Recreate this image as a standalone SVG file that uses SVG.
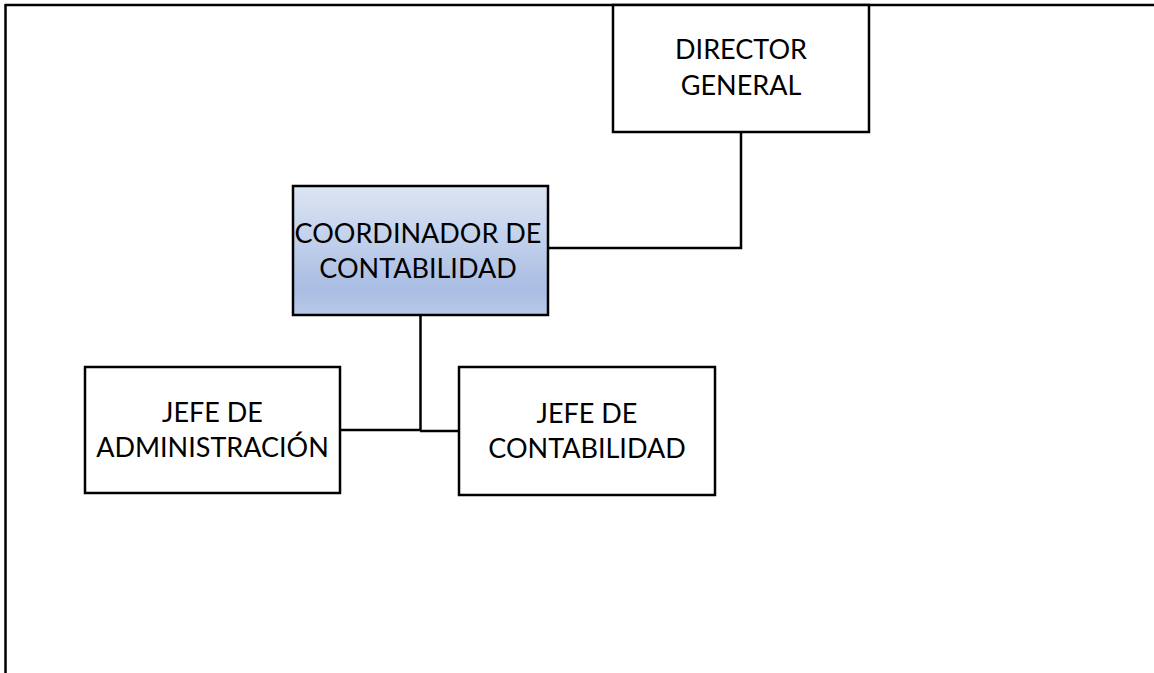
<svg xmlns="http://www.w3.org/2000/svg" width="1154" height="673" viewBox="0 0 1154 673">
<style>
.box{fill:#ffffff;stroke:#000;stroke-width:2.5}
.lbl{font-family:Lato,"Open Sans","Liberation Sans",sans-serif;font-size:27px;fill:#000;text-anchor:middle}
.ln{fill:none;stroke:#000;stroke-width:2.5}
</style>
<defs>
<linearGradient id="g" x1="0" y1="0" x2="0" y2="1">
<stop offset="0" stop-color="#dde5f3"/>
<stop offset="0.8" stop-color="#a9bde3"/>
<stop offset="1" stop-color="#b8c9e8"/>
</linearGradient>
</defs>
<rect width="1154" height="673" fill="#fff"/>
<g id="frame">
<line x1="5" y1="5" x2="1154" y2="5" stroke="#000" stroke-width="2.5"/>
<line x1="5.5" y1="4" x2="5.5" y2="673" stroke="#000" stroke-width="2.5"/>
</g>
<g id="connectors">
<polyline class="ln" points="741,132 741,248 548,248"/>
<line class="ln" x1="420.5" y1="315" x2="420.5" y2="431"/>
<line class="ln" x1="340" y1="430" x2="421" y2="430"/>
<line class="ln" x1="420" y1="431" x2="459" y2="431"/>
</g>
<g id="director">
<rect class="box" x="613" y="5" width="256" height="127"/>
<text class="lbl" x="741" y="59">DIRECTOR</text>
<text class="lbl" x="741" y="95">GENERAL</text>
</g>
<g id="coordinador">
<rect x="293" y="186" width="255" height="129" fill="url(#g)" stroke="#000" stroke-width="2.5"/>
<text class="lbl" x="418" y="243">COORDINADOR DE</text>
<text class="lbl" x="418" y="278">CONTABILIDAD</text>
</g>
<g id="jefe-admin">
<rect class="box" x="85" y="367" width="255" height="126"/>
<text class="lbl" x="212.5" y="422">JEFE DE</text>
<text class="lbl" x="212.5" y="457">ADMINISTRACIÓN</text>
</g>
<g id="jefe-contab">
<rect class="box" x="459" y="367" width="256" height="128"/>
<text class="lbl" x="587" y="422.5">JEFE DE</text>
<text class="lbl" x="587" y="457.5">CONTABILIDAD</text>
</g>
</svg>
